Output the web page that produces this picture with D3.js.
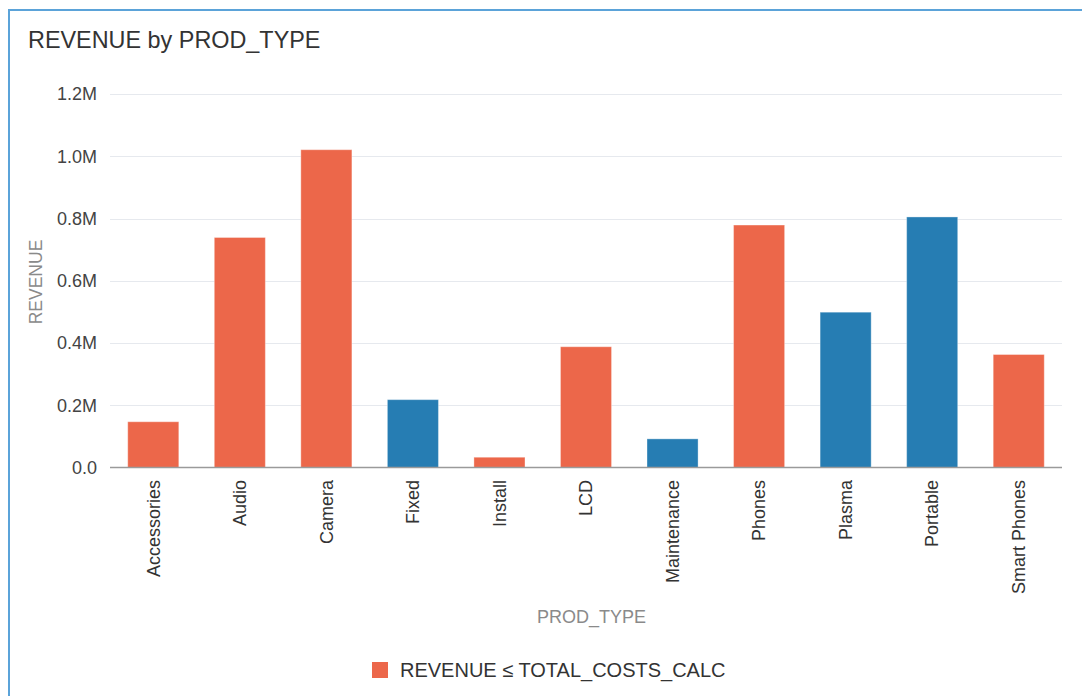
<!DOCTYPE html>
<html>
<head>
<meta charset="utf-8">
<script src="https://cdn.jsdelivr.net/npm/d3@7"></script>
<style>
  html, body { margin: 0; padding: 0; background: #ffffff; }
  svg { display: block; font-family: "Liberation Sans", Arial, sans-serif; }
</style>
</head>
<body>
<svg id="chart" width="1082" height="696"></svg>
<script>
// ---- data ----
const categories = ["Accessories", "Audio", "Camera", "Fixed", "Install", "LCD",
                    "Maintenance", "Phones", "Plasma", "Portable", "Smart Phones"];
const revenue = [147000, 739000, 1021000, 218000, 33000, 388000,
                 92000, 779000, 499000, 805000, 363000];
// true = REVENUE ≤ TOTAL_COSTS_CALC
const revenueLeCosts = [true, true, true, false, true, true,
                        false, true, false, false, true];
const yTicks = [0, 200000, 400000, 600000, 800000, 1000000, 1200000];
const yTickLabels = ["0.0", "0.2M", "0.4M", "0.6M", "0.8M", "1.0M", "1.2M"];
const legendLabels = ["REVENUE ≤ TOTAL_COSTS_CALC"];
const titleText = "REVENUE by PROD_TYPE";
const xTitle = "PROD_TYPE";
const yTitle = "REVENUE";

const ORANGE = "#EC674A";
const BLUE = "#267DB3";

const svg = d3.select("#chart");

// panel border (top + left)
svg.append("line").attr("x1", 9).attr("x2", 1082).attr("y1", 10).attr("y2", 10)
  .attr("stroke", "#5BA3D9").attr("stroke-width", 2);
svg.append("line").attr("x1", 9).attr("x2", 9).attr("y1", 9).attr("y2", 696)
  .attr("stroke", "#5BA3D9").attr("stroke-width", 2);

// title
svg.append("text").attr("x", 28).attr("y", 48)
  .attr("font-size", 23.4).attr("fill", "#333").text(titleText);

const x = d3.scaleBand().domain(categories).range([110, 1062])
  .paddingInner(0.41).paddingOuter(0.205);
const y = d3.scaleLinear().domain([0, 1200000]).range([467.5, 94]);

// gridlines
svg.append("g").selectAll("line").data(yTicks.slice(1)).join("line")
  .attr("x1", 110).attr("x2", 1062)
  .attr("y1", d => Math.round(y(d)) + 0.5).attr("y2", d => Math.round(y(d)) + 0.5)
  .attr("stroke", "#E6E9EE").attr("stroke-width", 1);

// y axis
const yAxis = d3.axisLeft(y).tickValues(yTicks)
  .tickFormat((d, i) => yTickLabels[i]).tickSize(0).tickPadding(0);
const gy = svg.append("g").attr("transform", "translate(97,0)").call(yAxis);
gy.select(".domain").remove();
gy.selectAll("text").attr("font-size", 18).attr("fill", "#444")
  .attr("font-family", "Liberation Sans, Arial, sans-serif");

// bars
svg.append("g").selectAll("rect").data(categories).join("rect")
  .attr("x", d => x(d))
  .attr("width", x.bandwidth())
  .attr("y", (d, i) => y(revenue[i]))
  .attr("height", (d, i) => y(0) - y(revenue[i]))
  .attr("fill", (d, i) => revenueLeCosts[i] ? ORANGE : BLUE)
  .attr("stroke", "rgba(255,255,255,0.35)")
  .attr("stroke-width", 1);

// x axis
const xAxis = d3.axisBottom(x).tickSize(0).tickPadding(0);
const gx = svg.append("g").attr("transform", "translate(0,467.5)").call(xAxis);
gx.select(".domain").attr("stroke", "#9a9a9a").attr("stroke-width", 1.5)
  .attr("d", "M110,0H1062");
gx.selectAll("text")
  .attr("font-size", 18).attr("fill", "#333")
  .attr("font-family", "Liberation Sans, Arial, sans-serif")
  .attr("text-anchor", "end")
  .attr("transform", "rotate(-90)")
  .attr("x", -12.5).attr("y", 0).attr("dy", "0.35em");

// axis titles
svg.append("text").attr("x", 591.5).attr("y", 623)
  .attr("text-anchor", "middle").attr("font-size", 18).attr("fill", "#8a8a8a")
  .text(xTitle);
svg.append("text")
  .attr("transform", "translate(42,282) rotate(-90)")
  .attr("text-anchor", "middle").attr("font-size", 17.5).attr("fill", "#8a8a8a")
  .text(yTitle);

// legend
const lg = svg.append("g");
lg.selectAll("rect").data(legendLabels).join("rect")
  .attr("x", 372).attr("y", 662).attr("width", 16).attr("height", 16)
  .attr("fill", ORANGE);
lg.selectAll("text").data(legendLabels).join("text")
  .attr("x", 400).attr("y", 677).attr("font-size", 20).attr("fill", "#333")
  .text(d => d);
</script>
</body>
</html>
